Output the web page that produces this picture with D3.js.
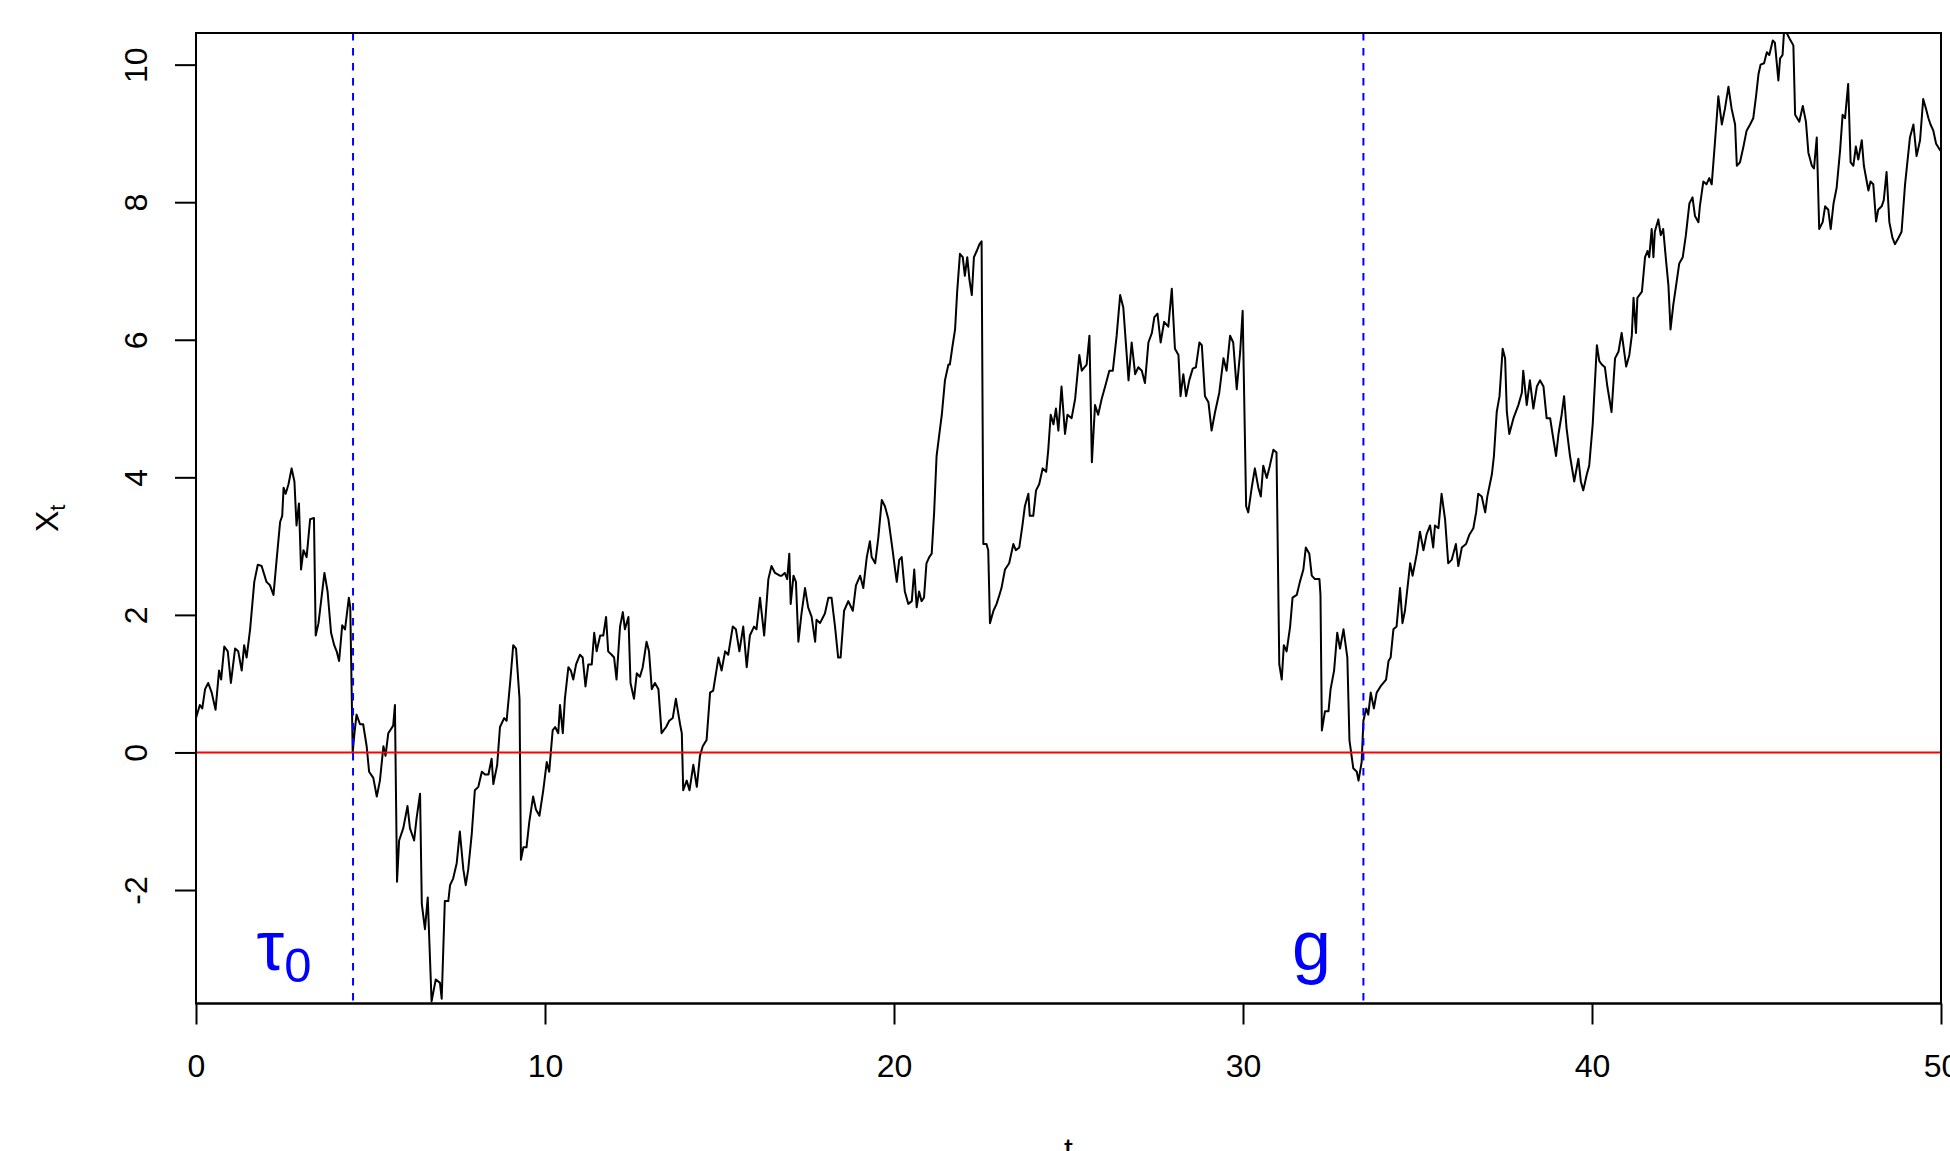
<!DOCTYPE html>
<html>
<head>
<meta charset="utf-8">
<script src="https://cdn.jsdelivr.net/npm/d3@7"></script>
<style>
  html, body { margin: 0; padding: 0; background: #ffffff; }
  svg { display: block; font-family: "Liberation Sans", Arial, Helvetica, sans-serif; }
</style>
</head>
<body>
<svg id="chart" width="1950" height="1151"></svg>
<script>
// ---- data ----
const xTicks = [0, 10, 20, 30, 40, 50];
const yTicks = [-2, 0, 2, 4, 6, 8, 10];
const xDomain = [0, 50];
const yDomain = [-3.65, 10.46];
const refLevel = 0;
const markerTimes = [4.5, 33.45];
const markerLabels = [{main: "\u03c4", sub: "0"}, {main: "g", sub: ""}];
const markerLabelT = [2.52, 31.96];
const markerLabelV = -3.16;
const xLabel = "t";
const yLabelMain = "X";
const yLabelSub = "t";

const pathT = [
 0,0.11,0.18,0.26,0.35,0.45,0.56,0.66,0.72,0.81,0.91,1.00,1.12,1.21,1.31,1.38,1.45,1.55,1.67,1.77,
 1.88,2.02,2.12,2.22,2.31,2.41,2.47,2.51,2.57,2.65,2.74,2.82,2.88,2.95,3.01,3.08,3.17,3.27,3.38,3.43,
 3.51,3.68,3.77,3.87,3.96,4.03,4.10,4.19,4.27,4.38,4.42,4.49,4.54,4.60,4.70,4.79,4.89,4.96,5.08,5.18,
 5.27,5.37,5.43,5.51,5.65,5.70,5.76,5.82,5.94,6.06,6.13,6.25,6.32,6.42,6.47,6.56,6.64,6.75,6.87,6.99,
 7.04,7.13,7.23,7.28,7.37,7.47,7.56,7.66,7.73,7.80,7.90,7.99,8.09,8.19,8.28,
 8.38,8.47,8.52,8.63,8.71,8.83,8.90,9.00,9.09,9.17,9.27,9.31,9.38,9.47,9.55,9.66,9.74,9.84,9.95,10.05,
 10.12,10.22,10.29,10.38,10.43,10.51,10.57,10.67,10.74,10.81,10.89,11.00,11.08,11.16,11.24,11.34,11.41,11.48,11.58,11.67,
 11.75,11.81,11.91,11.98,12.05,12.15,12.23,12.29,12.39,12.45,12.55,12.63,12.72,12.80,12.91,12.98,13.06,13.15,13.25,13.34,
 13.47,13.56,13.66,13.75,13.87,13.92,13.96,14.06,14.14,14.25,14.35,14.44,14.52,14.63,14.73,14.82,14.97,15.06,15.16,15.25,
 15.38,15.47,15.57,15.68,15.78,15.87,15.99,16.06,16.16,16.28,16.40,16.49,16.59,16.73,
 16.78,16.87,16.94,17.00,17.04,17.12,17.19,17.26,17.35,17.45,17.54,17.64,17.74,17.78,17.88,18.02,18.12,18.21,18.31,18.40,
 18.47,18.57,18.69,18.82,18.91,19.03,19.12,19.22,19.31,19.36,19.46,19.55,19.65,19.74,19.84,19.96,20.03,20.08,20.15,20.22,
 20.31,20.41,20.51,20.58,20.65,20.72,20.79,20.86,20.93,21.01,21.08,21.15,21.22,21.30,21.37,21.46,21.56,21.60,21.68,21.75,
 21.81,21.89,21.97,22.03,22.10,22.16,22.23,22.29,22.37,22.45,22.51,22.56,22.65,22.70,22.75,22.85,22.94,23.02,23.08,23.18,
 23.30,23.42,23.49,23.59,23.68,23.75,23.85,23.89,23.99,24.07,24.16,24.26,24.36,24.42,24.49,24.57,24.64,24.71,24.80,24.90,
 24.97,
 25.09,25.19,25.31,25.38,25.52,25.60,25.67,25.76,25.85,25.95,26.05,26.17,26.27,26.38,26.48,26.57,26.72,26.81,26.91,27.00,
 27.10,27.19,27.29,27.39,27.46,27.55,27.64,27.74,27.86,27.96,28.05,28.15,28.21,28.29,28.37,28.46,28.56,28.65,28.75,28.82,
 28.91,29.01,29.10,29.20,29.32,29.44,29.53,29.63,29.72,29.82,29.92,29.99,30.09,30.15,30.25,30.34,30.44,30.51,30.58,30.68,
 30.77,30.87,30.96,31.04,31.11,31.17,31.25,31.35,31.42,31.54,31.63,31.73,31.80,31.90,31.97,32.06,32.19,32.22,32.26,32.35,
 32.45,32.51,32.61,32.70,32.78,32.88,32.99,33.05,
 33.16,33.26,33.31,33.40,33.45,33.53,33.59,33.66,33.75,33.83,33.94,34.10,34.17,34.23,34.31,34.40,34.50,34.57,34.64,34.79,
 34.86,34.98,35.07,35.17,35.26,35.36,35.45,35.50,35.60,35.69,35.79,35.88,35.98,36.10,36.17,36.27,36.39,36.49,36.60,36.68,
 36.74,36.84,36.94,37.00,37.13,37.19,37.27,37.35,37.44,37.51,37.56,37.63,37.75,37.89,37.99,38.03,38.13,38.22,38.32,38.42,
 38.51,38.61,38.70,38.80,38.87,38.97,39.04,39.13,39.20,39.27,39.37,39.49,39.61,39.68,39.75,39.85,39.92,40.02,40.14,40.21,
 40.28,40.37,40.44,40.56,40.66,40.76,40.85,40.98,41.07,41.14,41.19,41.26,41.30,41.43,41.52,41.59,
 41.64,41.71,41.76,41.80,41.90,41.97,42.04,42.12,42.19,42.25,42.33,42.41,42.50,42.60,42.69,42.79,42.88,42.95,43.05,43.09,
 43.19,43.28,43.36,43.43,43.52,43.62,43.72,43.81,43.91,44.00,44.10,44.15,44.24,44.34,44.43,44.53,44.62,44.70,44.77,44.83,
 44.93,45.01,45.08,45.18,45.24,45.34,45.39,45.46,45.50,45.58,45.67,45.77,45.82,45.94,46.04,46.13,46.20,46.30,46.36,46.44,
 46.51,46.61,46.68,46.77,46.84,46.92,47.01,47.11,47.18,47.25,47.34,47.41,47.49,47.56,47.63,47.73,47.79,47.92,47.98,48.06,
 48.14,48.20,48.30,48.36,48.44,48.52,48.61,48.68,48.78,48.87,48.97,49.11,49.21,49.30,49.40,49.49,49.57,49.64,49.70,49.78,
 49.86,49.97,50.00
];
const pathX = [
 0.50,0.69,0.64,0.92,1.01,0.87,0.62,1.19,1.06,1.54,1.47,1.01,1.51,1.47,1.19,1.56,1.38,1.79,2.48,2.73,
 2.71,2.48,2.43,2.29,2.80,3.35,3.44,3.85,3.76,3.90,4.13,3.94,3.30,3.62,2.66,2.94,2.84,3.39,3.41,1.70,
 1.88,2.61,2.34,1.74,1.56,1.47,1.33,1.85,1.79,2.25,2.11,0.00,0.28,0.55,0.41,0.41,0.09,-0.28,-0.37,-0.64,
 -0.41,0.09,-0.05,0.28,0.39,0.69,-1.88,-1.28,-1.10,-0.78,-1.10,-1.28,-0.96,-0.60,-2.20,-2.57,-2.11,-3.62,-3.30,-3.35,
 -3.58,-2.16,-2.16,-1.93,-1.83,-1.61,-1.15,-1.70,-1.93,-1.70,-1.19,-0.55,-0.50,-0.28,-0.32,
 -0.32,-0.09,-0.46,-0.18,0.37,0.50,0.46,1.01,1.56,1.51,0.78,-1.56,-1.38,-1.38,-1.01,-0.64,-0.83,-0.92,-0.55,-0.14,
 -0.28,0.32,0.37,0.28,0.69,0.28,0.78,1.24,1.19,1.06,1.28,1.42,1.38,0.96,1.28,1.28,1.74,1.47,1.70,1.70,
 1.97,1.47,1.42,1.38,1.06,1.83,2.04,1.79,1.97,1.01,0.78,1.15,1.10,1.24,1.61,1.47,0.92,1.01,0.92,0.28,
 0.37,0.46,0.50,0.78,0.41,0.28,-0.55,-0.41,-0.55,-0.18,-0.50,-0.05,0.09,0.18,0.87,0.90,1.38,1.19,1.47,1.42,
 1.83,1.79,1.47,1.83,1.24,1.70,1.83,1.79,2.25,1.70,2.52,2.71,2.61,2.57,
 2.57,2.61,2.52,2.89,2.16,2.57,2.48,1.61,2.02,2.39,2.11,1.97,1.61,1.93,1.88,2.02,2.25,2.25,1.83,1.38,
 1.38,2.06,2.20,2.06,2.43,2.57,2.39,2.84,3.07,2.84,2.75,3.12,3.67,3.58,3.39,2.94,2.66,2.48,2.80,2.84,
 2.34,2.16,2.20,2.66,2.11,2.34,2.20,2.25,2.75,2.84,2.89,3.49,4.31,4.63,4.91,5.41,5.64,5.64,5.92,6.15,
 6.70,7.25,7.20,6.93,7.20,6.88,6.65,7.20,7.29,7.39,7.43,3.03,3.03,2.94,1.88,2.06,2.16,2.29,2.39,2.66,
 2.75,3.03,2.94,2.98,3.30,3.58,3.76,3.44,3.44,3.81,3.90,4.13,4.08,4.40,4.91,4.77,5.00,4.68,5.32,4.63,
 4.91,
 4.86,5.14,5.78,5.55,5.64,6.06,4.22,5.05,4.91,5.14,5.32,5.55,5.55,6.06,6.65,6.47,5.41,5.96,5.50,5.60,
 5.55,5.37,5.96,6.10,6.33,6.38,5.96,6.26,6.19,6.74,5.87,5.78,5.18,5.50,5.18,5.41,5.58,5.60,5.96,5.92,
 5.18,5.09,4.68,4.95,5.23,5.73,5.55,6.06,5.96,5.28,5.83,6.42,3.58,3.49,3.85,4.13,3.85,3.72,4.17,3.99,
 4.17,4.40,4.36,1.28,1.06,1.56,1.47,1.83,2.25,2.29,2.48,2.66,2.98,2.89,2.57,2.52,2.52,2.29,0.32,0.60,
 0.60,0.92,1.19,1.74,1.51,1.79,1.38,0.18,
 -0.23,-0.28,-0.41,-0.14,0.46,0.64,0.55,0.87,0.64,0.87,0.96,1.06,1.33,1.38,1.79,1.83,2.39,1.88,2.06,2.75,
 2.57,2.89,3.21,2.94,3.17,3.30,2.98,3.30,3.26,3.76,3.39,2.75,2.80,3.03,2.71,2.98,3.03,3.17,3.26,3.49,
 3.76,3.72,3.49,3.72,4.04,4.31,4.95,5.18,5.87,5.73,4.95,4.63,4.86,5.05,5.23,5.55,5.05,5.41,5.00,5.32,
 5.41,5.32,4.86,4.86,4.63,4.31,4.63,4.91,5.18,4.72,4.31,3.94,4.27,3.94,3.81,4.04,4.17,4.77,5.92,5.69,
 5.64,5.60,5.32,4.95,5.73,5.83,6.10,5.61,5.78,6.06,6.61,6.10,6.61,6.70,7.20,7.29,
 7.20,7.61,7.20,7.57,7.75,7.52,7.61,7.16,6.79,6.15,6.51,6.79,7.11,7.20,7.52,7.98,8.07,7.80,7.71,7.94,
 8.30,8.26,8.35,8.26,8.85,9.54,9.13,9.36,9.68,9.36,9.13,8.53,8.58,8.81,9.04,9.13,9.22,9.54,9.86,10.00,
 10.02,10.18,10.14,10.35,10.32,9.77,10.09,10.14,10.46,10.46,10.37,10.28,9.27,9.17,9.40,9.17,8.72,8.53,8.49,8.94,
 7.61,7.71,7.94,7.89,7.61,7.98,8.21,8.76,9.27,9.22,9.72,8.58,8.53,8.81,8.62,8.90,8.53,8.17,8.30,8.26,
 7.72,7.89,7.94,8.03,8.44,7.71,7.48,7.39,7.48,7.57,8.26,8.94,9.13,8.67,8.90,9.50,9.36,9.22,9.13,9.04,
 8.85,8.76,8.74
];

// ---- layout ----
const W = 1950, H = 1151;
const plotLeft = 196, plotRight = 1941, plotTop = 33, plotBottom = 1003.5;

const svg = d3.select("#chart");
const x = d3.scaleLinear().domain(xDomain).range([plotLeft, plotRight]);
const y = d3.scaleLinear().domain(yDomain).range([plotBottom, plotTop]);

const tickFont = 32;

// clip for the plot region
svg.append("defs").append("clipPath").attr("id", "plotclip")
  .append("rect").attr("x", plotLeft).attr("y", plotTop)
  .attr("width", plotRight - plotLeft).attr("height", plotBottom - plotTop);

const plot = svg.append("g").attr("clip-path", "url(#plotclip)");

// path
const pts = pathT.map((t, i) => [t, pathX[i]]);
const line = d3.line().x(d => x(d[0])).y(d => y(d[1]));
plot.append("path").datum(pts)
  .attr("d", line)
  .attr("fill", "none")
  .attr("stroke", "#000")
  .attr("stroke-width", 2)
  .attr("stroke-linejoin", "round")
  .attr("stroke-linecap", "round");

// reference level
plot.append("line")
  .attr("x1", x(xDomain[0])).attr("x2", x(xDomain[1]))
  .attr("y1", y(refLevel)).attr("y2", y(refLevel))
  .attr("stroke", "#ff0000").attr("stroke-width", 2);

// marker lines
plot.selectAll("line.marker").data(markerTimes).enter().append("line")
  .attr("class", "marker")
  .attr("x1", d => x(d)).attr("x2", d => x(d))
  .attr("y1", plotTop).attr("y2", plotBottom)
  .attr("stroke", "#0000ff").attr("stroke-width", 2)
  .attr("stroke-dasharray", "7.5,7.5");

// marker labels
markerLabels.forEach((lab, i) => {
  const t = svg.append("text")
    .attr("x", x(markerLabelT[i]))
    .attr("y", y(markerLabelV))
    .attr("text-anchor", "middle")
    .attr("fill", "#0000ff")
    .attr("font-size", 70);
  t.append("tspan").text(lab.main);
  if (lab.sub) {
    t.append("tspan").attr("font-size", 49).attr("dy", 12).text(lab.sub);
  }
});

// box
svg.append("rect")
  .attr("x", plotLeft).attr("y", plotTop)
  .attr("width", plotRight - plotLeft).attr("height", plotBottom - plotTop)
  .attr("fill", "none").attr("stroke", "#000").attr("stroke-width", 2);

// x axis
const xAxis = d3.axisBottom(x).tickValues(xTicks).tickSize(21).tickSizeOuter(0).tickPadding(30)
  .tickFormat(d3.format("d"));
const gx = svg.append("g").attr("transform", `translate(0,${plotBottom})`).call(xAxis);
gx.select(".domain").attr("stroke", "#000").attr("stroke-width", 2)
  .attr("d", `M${x(xTicks[0])},0H${x(xTicks[xTicks.length - 1])}`);
gx.selectAll(".tick line").attr("stroke", "#000").attr("stroke-width", 2);
gx.selectAll(".tick text").attr("font-size", tickFont)
  .attr("font-family", "'Liberation Sans', Arial, sans-serif").attr("fill", "#000");

// y axis
const yAxis = d3.axisLeft(y).tickValues(yTicks).tickSize(21).tickSizeOuter(0)
  .tickFormat(d => (d < 0 ? "\u2212" + Math.abs(d) : String(d)).replace("\u2212", "-"));
const gy = svg.append("g").attr("transform", `translate(${plotLeft},0)`).call(yAxis);
gy.select(".domain").attr("stroke", "#000").attr("stroke-width", 2)
  .attr("d", `M0,${y(yTicks[0])}V${y(yTicks[yTicks.length - 1])}`);
gy.selectAll(".tick line").attr("stroke", "#000").attr("stroke-width", 2);
gy.selectAll(".tick text")
  .attr("x", null).attr("dy", null)
  .attr("text-anchor", "middle")
  .attr("transform", "translate(-49,0) rotate(-90)")
  .attr("font-size", tickFont)
  .attr("font-family", "'Liberation Sans', Arial, sans-serif").attr("fill", "#000");

// axis titles
svg.append("text")
  .attr("x", (plotLeft + plotRight) / 2).attr("y", 1160)
  .attr("text-anchor", "middle").attr("font-size", tickFont).attr("fill", "#000")
  .text(xLabel);

const yl = svg.append("text")
  .attr("transform", `translate(58,${(plotTop + plotBottom) / 2}) rotate(-90)`)
  .attr("text-anchor", "middle").attr("font-size", tickFont).attr("fill", "#000");
yl.append("tspan").text(yLabelMain);
yl.append("tspan").attr("font-size", 22).attr("dy", 7).text(yLabelSub);
</script>
</body>
</html>
